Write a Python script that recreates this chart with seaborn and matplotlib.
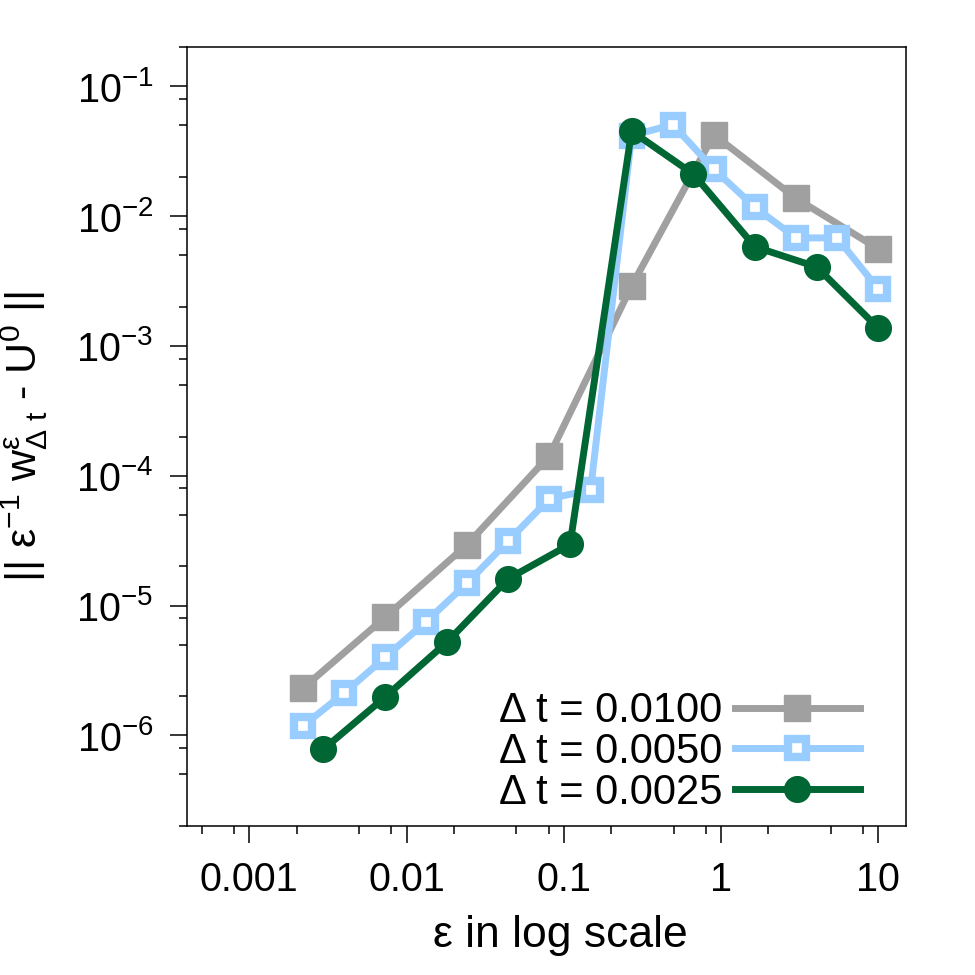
import numpy as np
import pandas as pd
import matplotlib
matplotlib.use('Agg')
import matplotlib.pyplot as plt
from matplotlib.ticker import LogLocator, NullFormatter
import seaborn as sns

# values
eps_dt0100 = [0.00219, 0.0073, 0.0243, 0.081, 0.27, 0.9, 3.0, 10.0]
err_dt0100 = [2.3e-6, 8.1e-6, 2.95e-5, 1.43e-4, 2.9e-3, 0.0424, 0.0137, 5.6e-3]

eps_dt0050 = [0.00219, 0.004, 0.0073, 0.0133, 0.0243, 0.0444, 0.081, 0.148,
              0.27, 0.493, 0.9, 1.643, 3.0, 5.477, 10.0]
err_dt0050 = [1.18e-6, 2.11e-6, 3.98e-6, 7.5e-6, 1.49e-5, 3.15e-5, 6.66e-5, 7.77e-5,
              0.0417, 0.0508, 0.023, 0.0117, 6.8e-3, 6.8e-3, 2.75e-3]

eps_dt0025 = [0.00296, 0.0073, 0.018, 0.0444, 0.1096, 0.27, 0.667, 1.644, 4.055, 10.0]
err_dt0025 = [7.8e-7, 1.97e-6, 5.2e-6, 1.61e-5, 2.96e-5, 0.0452, 0.0211, 5.8e-3, 4.06e-3, 1.37e-3]

labels = ['Δ t = 0.0100', 'Δ t = 0.0050', 'Δ t = 0.0025']
colors = ['#a0a0a0', '#99ccff', '#006633']
xticks = [0.001, 0.01, 0.1, 1, 10]
xticklabels = ['0.001', '0.01', '0.1', '1', '10']
yticks = [1e-6, 1e-5, 1e-4, 1e-3, 1e-2, 1e-1]

plt.rcParams['font.family'] = ['Liberation Sans', 'DejaVu Sans']
plt.rcParams['mathtext.fontset'] = 'custom'
plt.rcParams['mathtext.rm'] = 'Liberation Sans'
plt.rcParams['mathtext.it'] = 'Liberation Sans'
plt.rcParams['mathtext.bf'] = 'Liberation Sans'
plt.rcParams['mathtext.sf'] = 'Liberation Sans'

fig = plt.figure(figsize=(9.75, 9.75), dpi=100)
ax = fig.add_axes([186.7 / 975, 1 - 826 / 975, (906 - 186.7) / 975, (826 - 47.3) / 975])

# Δt = 0.0100 : filled grey squares
sns.lineplot(x=eps_dt0100, y=err_dt0100, ax=ax, color=colors[0], linewidth=5,
             marker='s', markersize=18.5, markeredgecolor=colors[0], markeredgewidth=1,
             label=labels[0])
# Δt = 0.0050 : open light-blue squares
sns.lineplot(x=eps_dt0050, y=err_dt0050, ax=ax, color=colors[1], linewidth=5,
             marker='s', markersize=13.3, markerfacecolor='white',
             markeredgecolor=colors[1], markeredgewidth=6, label=labels[1])
# Δt = 0.0025 : filled green circles
sns.lineplot(x=eps_dt0025, y=err_dt0025, ax=ax, color=colors[2], linewidth=5,
             marker='o', markersize=18.5, markeredgecolor=colors[2], markeredgewidth=1,
             label=labels[2])

ax.set_xscale('log')
ax.set_yscale('log')
ax.set_xlim(4.0e-4, 15)
ax.set_ylim(2e-7, 0.2)

ax.set_xticks(xticks)
ax.set_xticklabels(xticklabels)
ax.set_yticks(yticks)
ax.xaxis.set_minor_locator(LogLocator(base=10, subs=[2, 5, 8], numticks=20))
ax.yaxis.set_minor_locator(LogLocator(base=10, subs=[2, 5, 8], numticks=20))
ax.xaxis.set_minor_formatter(NullFormatter())
ax.yaxis.set_minor_formatter(NullFormatter())

for s in ax.spines.values():
    s.set_linewidth(1.1)
    s.set_color('black')
ax.tick_params(which='major', direction='out', length=12, width=1.1, labelsize=28.5, pad=12)
ax.tick_params(which='minor', direction='out', length=6, width=1.1)
ax.tick_params(axis='x', which='major', pad=13)

ax.set_xlabel('ε in log scale', fontsize=32)
ax.xaxis.set_label_coords(0.52, -0.114)
ax.set_ylabel(r'|| ε$^{-1}$ w$^{ε}_{Δ\ t}$ - U$^{0}$ ||', fontsize=31)
ax.yaxis.set_label_coords(-0.19, 0.5)

handles, labs = ax.get_legend_handles_labels()
ax.legend(handles, labs, loc='lower right', bbox_to_anchor=(0.936, 0.017),
          frameon=False, markerfirst=False, handlelength=3.0, handletextpad=0.3,
          labelspacing=0.02, borderpad=0, borderaxespad=0, fontsize=30, numpoints=1)

fig.savefig('out.png', dpi=100)
